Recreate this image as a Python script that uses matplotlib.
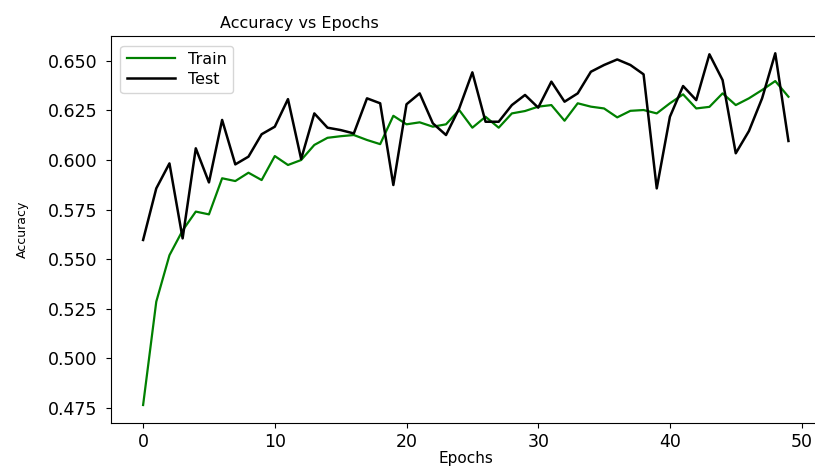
import matplotlib
matplotlib.use("Agg")
import matplotlib.pyplot as plt

epochs = list(range(50))

train_acc = [0.4765, 0.5286, 0.552, 0.5645, 0.574, 0.5726, 0.5908, 0.5894, 0.5936, 0.5899,
             0.602, 0.5975, 0.600, 0.6076, 0.6112, 0.612, 0.6126, 0.6101, 0.608, 0.6223,
             0.618, 0.619, 0.6168, 0.618, 0.6252, 0.6163, 0.6218, 0.6163, 0.6235, 0.6247,
             0.6269, 0.6277, 0.6198, 0.6286, 0.6269, 0.626, 0.6215, 0.6248, 0.6252, 0.6235,
             0.6286, 0.6331, 0.626, 0.6268, 0.6336, 0.6277, 0.6311, 0.6353, 0.6398, 0.6319]

test_acc = [0.5597, 0.5857, 0.5983, 0.5605, 0.6059, 0.5887, 0.6202, 0.5978, 0.6017, 0.613,
            0.6168, 0.6307, 0.6005, 0.6235, 0.6163, 0.6151, 0.6134, 0.6311, 0.6286, 0.5874,
            0.6281, 0.6336, 0.6185, 0.6126, 0.626, 0.6442, 0.6193, 0.6193, 0.6277, 0.6328,
            0.6264, 0.6395, 0.6294, 0.6336, 0.6445, 0.6479, 0.6507, 0.6479, 0.6432, 0.5857,
            0.6218, 0.6373, 0.6302, 0.6533, 0.6403, 0.6034, 0.6146, 0.6311, 0.6538, 0.6096]

fig = plt.figure(figsize=(8.15, 4.68), dpi=100)
# axes runs a little past the right edge, like the cropped original
ax = fig.add_axes([0.136, 0.096, 0.871, 0.827])

ax.plot(epochs, train_acc, color="green", linewidth=1.6, label="Train")
ax.plot(epochs, test_acc, color="black", linewidth=1.8, label="Test")

ax.set_xlim(-2.45, 51.45)
ax.set_ylim(0.4674, 0.6625)
ax.set_xticks([0, 10, 20, 30, 40, 50])
ax.set_yticks([0.475, 0.500, 0.525, 0.550, 0.575, 0.600, 0.625, 0.650])
ax.tick_params(labelsize=12.5)
ax.tick_params(axis="y", pad=6)
ax.spines["right"].set_visible(False)

ax.set_title("Accuracy vs Epochs", fontsize=11.5, x=0.265)
ax.set_xlabel("Epochs", fontsize=11, labelpad=0)
ax.set_ylabel("Accuracy", fontsize=9, labelpad=14)
ax.legend(loc="upper left", fontsize=11.5, handlelength=3.0,
          labelspacing=0.3, borderaxespad=0.6)

fig.savefig("out.png", dpi=100)
